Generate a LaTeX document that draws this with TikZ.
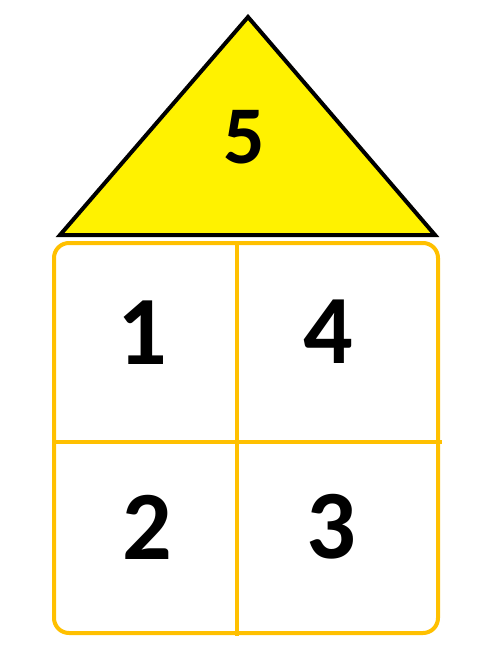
\documentclass[tikz,border=0pt]{standalone}
\usepackage{fontspec}
\setmainfont{Carlito}
\usepackage{tikz}
\usetikzlibrary{positioning}
\definecolor{roofyellow}{HTML}{FFF200}
\definecolor{wallgold}{HTML}{FFC000}

\begin{document}
\begin{tikzpicture}[x=1pt,y=-1pt,
    digit/.style = {font=\fontsize{98}{98}\selectfont\bfseries,
        inner sep=0pt, text=black},
    wall/.style = {draw=wallgold, line width=4pt}]
      \useasboundingbox (0,0) rectangle (502,664);
      \fill[white] (0,0) rectangle (502,664);
      % roof
      \filldraw[fill=roofyellow, draw=black, line width=4pt,
        line join=miter] (60,235) -- (248,17) -- (435,235) -- cycle;
      % house
      \draw[wall, rounded corners=15pt] (54,243) rectangle (438,633);
      \draw[wall] (237,243) -- (237,636);
      \draw[wall] (54,442) -- (442,442);
      \node[digit, font=\fontsize{82}{82}\selectfont\bfseries] (top) at (244,137) {5};
      \node[digit] (n1) at (142,333) {1}; \node[digit] (n4) at (328,332) {4};
      \node[digit] (n2) at (147,527) {2}; \node[digit] (n3) at (331,527) {3};
    \end{tikzpicture}
\end{document}
